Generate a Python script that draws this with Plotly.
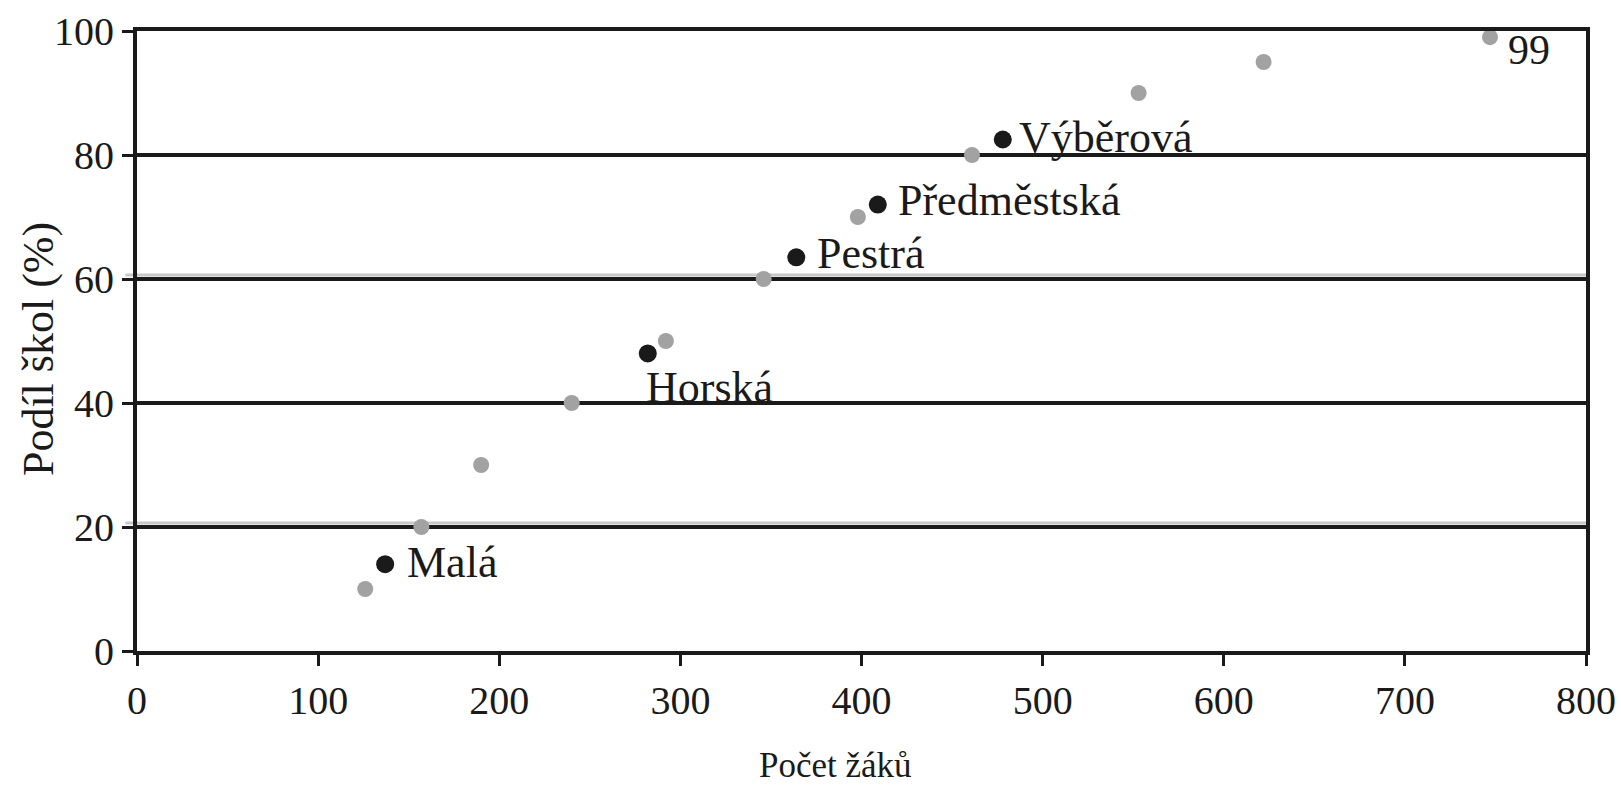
import plotly.graph_objects as go

# Percentile points (grey)
percentile_x = [126, 157, 190, 240, 292, 346, 398, 461, 553, 622, 747]
percentile_y = [10, 20, 30, 40, 50, 60, 70, 80, 90, 95, 99]
percentile_label = "99"

# Named schools (black)
schools = ["Malá", "Horská", "Pestrá", "Předměstská", "Výběrová"]
school_x = [137, 282, 364, 409, 478]
school_y = [14, 48, 63.5, 72, 82.5]

x_ticks = [0, 100, 200, 300, 400, 500, 600, 700, 800]
y_ticks = [0, 20, 40, 60, 80, 100]
x_title = "Počet žáků"
y_title = "Podíl škol (%)"

# label placement styles (pixel offsets, anchors) per school
label_style = [
    dict(xanchor="left", yanchor="middle", xshift=20, yshift=2),    # Malá
    dict(xanchor="left", yanchor="top", xshift=-4, yshift=-8),      # Horská
    dict(xanchor="left", yanchor="middle", xshift=19, yshift=4),    # Pestrá
    dict(xanchor="left", yanchor="middle", xshift=18, yshift=4),    # Předměstská
    dict(xanchor="left", yanchor="middle", xshift=14, yshift=2),    # Výběrová
]

FONT = "Liberation Serif"
INK = "#1a1a1a"

fig = go.Figure()
fig.add_trace(go.Scatter(
    x=percentile_x, y=percentile_y, mode="markers",
    marker=dict(color="#a2a2a2", size=16, symbol="circle"),
    cliponaxis=False, showlegend=False, name="percentily",
))
fig.add_trace(go.Scatter(
    x=school_x, y=school_y, mode="markers",
    marker=dict(color=INK, size=18, symbol="circle"),
    cliponaxis=False, showlegend=False, name="školy",
))

for name, xv, yv, st in zip(schools, school_x, school_y, label_style):
    fig.add_annotation(x=xv, y=yv, text=name, showarrow=False,
                       font=dict(family=FONT, size=44, color=INK), **st)

fig.add_annotation(x=percentile_x[-1], y=percentile_y[-1], text=percentile_label,
                   showarrow=False, xanchor="left", yanchor="middle", xshift=16, yshift=-13,
                   font=dict(family=FONT, size=42, color=INK))

# light grey accent lines just above the 20 and 60 gridlines
for yv in (20, 60):
    fig.add_shape(type="line", xref="paper", x0=-0.008, x1=1,
                  yref="y", ysizemode="pixel", yanchor=yv, y0=4, y1=4,
                  line=dict(color="#c8c8c8", width=3), layer="below")

fig.add_annotation(text=x_title, xref="paper", yref="paper", x=0.4824, y=-0.184,
                   xanchor="center", yanchor="middle", showarrow=False,
                   font=dict(family=FONT, size=35, color=INK))
fig.add_annotation(text=y_title, xref="paper", yref="paper", x=-0.0683, y=0.487,
                   xanchor="center", yanchor="middle", showarrow=False, textangle=-90,
                   font=dict(family=FONT, size=44, color=INK))

fig.update_layout(
    width=1621, height=786,
    margin=dict(l=137, r=35, t=31, b=135, autoexpand=False),
    paper_bgcolor="white", plot_bgcolor="white",
    font=dict(family=FONT, color=INK),
    xaxis=dict(range=[0, 800], tickvals=x_ticks, showgrid=False, zeroline=False,
               automargin=False,
               showline=True, linecolor=INK, linewidth=4, mirror=True,
               ticks="outside", ticklen=11, tickwidth=3, tickcolor=INK,
               tickfont=dict(family=FONT, size=40, color=INK)),
    yaxis=dict(range=[0, 100], tickvals=y_ticks, showgrid=True, gridcolor=INK, gridwidth=4,
               zeroline=False, automargin=False,
               showline=True, linecolor=INK, linewidth=4, mirror=True,
               ticks="outside", ticklen=11, tickwidth=3, tickcolor=INK,
               tickfont=dict(family=FONT, size=40, color=INK)),
)

fig.write_html("out.html", config={"displayModeBar": False},
               post_script="document.body.style.margin='0';document.body.style.overflow='hidden';")
